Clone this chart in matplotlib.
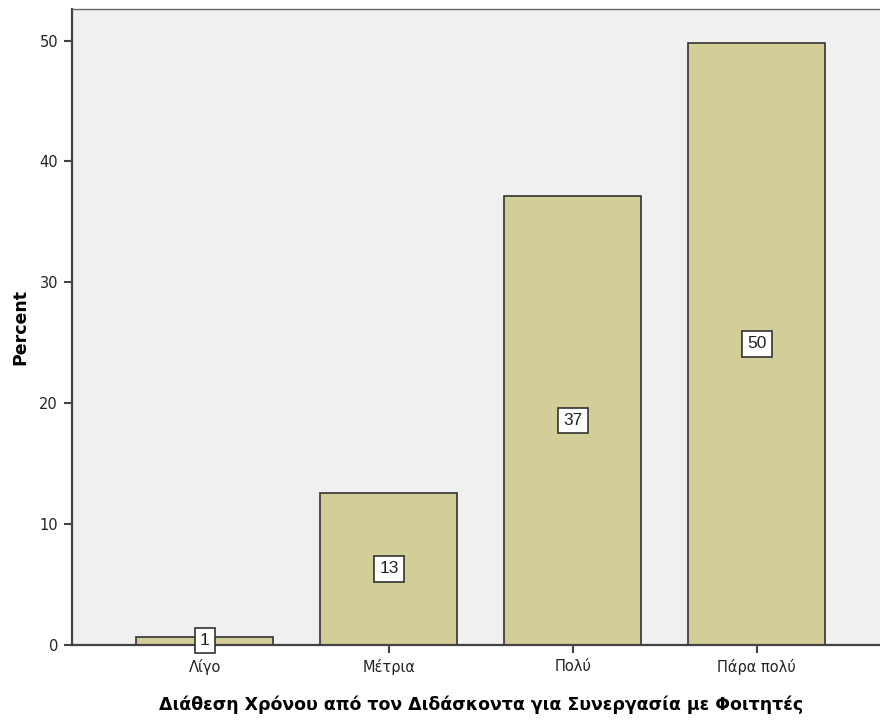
import matplotlib.pyplot as plt

# data
categories = ["Λίγο", "Μέτρια", "Πολύ", "Πάρα πολύ"]
percent = [0.7, 12.6, 37.1, 49.8]
yticks = [0, 10, 20, 30, 40, 50]

BAR_COLOR = "#d3ce97"
BG_COLOR = "#f0f0f0"
EDGE = "#333333"

plt.rcParams["font.family"] = ["DejaVu Sans"]

fig = plt.figure(figsize=(8.8, 7.2), dpi=100)
# axes runs a little past the right edge, as in the reference
ax = fig.add_axes([72 / 880, (720 - 645) / 720, (890 - 72) / 880, (645 - 8.5) / 720])
ax.set_facecolor(BG_COLOR)

x = range(len(categories))
ax.bar(x, percent, width=0.745, color=BAR_COLOR, edgecolor=EDGE, linewidth=1.2, zorder=2)

# value labels in the middle of each bar
for xi, val in zip(x, percent):
    ax.text(xi, val / 2, f"{round(val):d}", ha="center", va="center", fontsize=12.5,
            family=["Liberation Sans", "DejaVu Sans"], color="#222222", zorder=3,
            bbox=dict(boxstyle="square,pad=0.3", facecolor="white", edgecolor=EDGE, linewidth=1.2))

ax.set_xlim(-0.723, 3.725)
ax.set_ylim(0, 52.65)
ax.set_xticks(list(x))
ax.set_xticklabels(categories, fontsize=10.5, color="#222222")
ax.set_yticks(yticks)
ax.set_yticklabels([str(t) for t in yticks], fontsize=10.5, color="#222222")
ax.tick_params(axis="both", direction="out", length=6, width=1.5, color="#444444", pad=4)

for side in ["left", "bottom"]:
    ax.spines[side].set_color("#444444")
    ax.spines[side].set_linewidth(1.6)
ax.spines["top"].set_color("#666666")
ax.spines["top"].set_linewidth(1.0)
ax.spines["right"].set_visible(False)

ax.set_xlabel("Διάθεση Χρόνου από τον Διδάσκοντα για Συνεργασία με Φοιτητές",
              fontsize=12.5, fontweight="bold", labelpad=15)
ax.set_ylabel("Percent", fontsize=12.5, fontweight="bold", labelpad=7)

fig.savefig("out.png", dpi=100)
